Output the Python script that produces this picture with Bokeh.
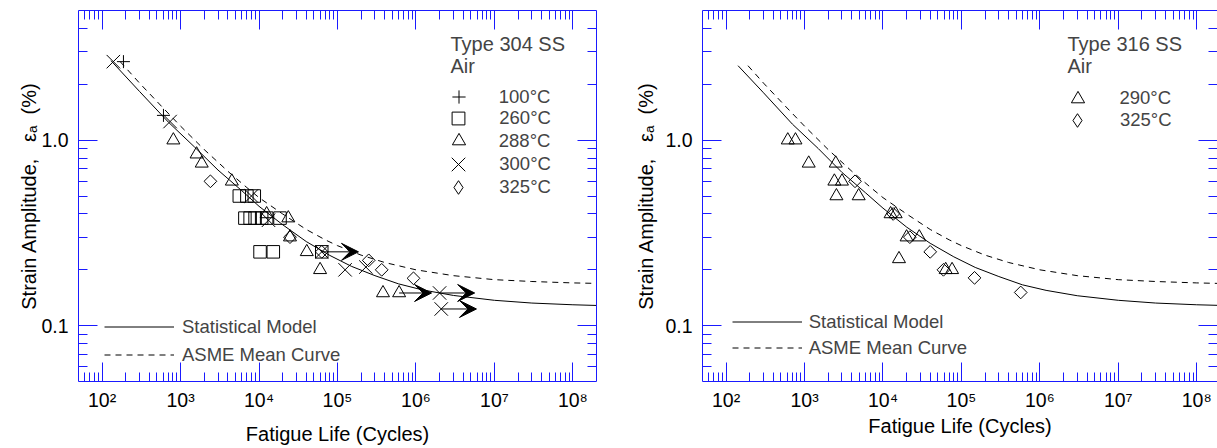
import math
from bokeh.plotting import figure
from bokeh.layouts import row
from bokeh.models import FixedTicker, LogAxis, Label, Arrow, VeeHead, Legend, LegendItem
from bokeh.embed import file_html
from bokeh.resources import INLINE

FONT = "Liberation Sans"
BLUE = "#1a1aff"
NB = "\u00a0"

# ---------------- Type 304 SS in air: life (cycles), strain amplitude (%) ----------------
n304_100 = [187, 605]
ea304_100 = [2.65, 1.36]
n304_260 = [5.6e3, 7.0e3, 8.7e3, 6.6e3, 7.7e3, 8.9e3, 1.08e4, 1.25e4, 1.85e4, 1.03e4, 1.52e4, 6.3e4]
ea304_260 = [0.5, 0.5, 0.5, 0.38, 0.38, 0.38, 0.38, 0.38, 0.38, 0.25, 0.25, 0.25]
n304_288 = [809, 1.6e3, 1.86e3, 4.5e3, 1.25e4, 2.36e4, 2.48e4, 4.06e4, 6.0e4, 3.8e5, 6.1e5]
ea304_288 = [1.0, 0.84, 0.75, 0.6, 0.4, 0.38, 0.3, 0.25, 0.2, 0.15, 0.15]
n304_300 = [139, 735, 8.0e3, 1.32e4, 6.3e4, 1.25e5, 2.3e5, 2.0e6, 2.1e6]
ea304_300 = [2.65, 1.26, 0.5, 0.37, 0.25, 0.2, 0.207, 0.15, 0.123]
n304_325 = [2.4e3, 2.48e4, 6.3e4, 2.5e5, 3.66e5, 9.3e5]
ea304_325 = [0.6, 0.3, 0.25, 0.225, 0.2, 0.18]

# run-outs: life reached, life the arrow points to, strain amplitude
runout304_from = [6.3e4, 6.1e5, 2.0e6, 2.1e6]
runout304_to = [1.85e5, 1.58e6, 5.6e6, 5.9e6]
runout304_ea = [0.25, 0.15, 0.15, 0.123]

model304_n = [130, 300, 700, 1500, 3000, 6000, 1e4, 2e4, 4e4, 8e4, 1.5e5, 3e5, 6e5, 1.2e6, 3e6, 1e7, 3e7, 1e8, 2e8]
model304_ea = [2.68, 1.83, 1.25, 0.92, 0.69, 0.535, 0.44, 0.35, 0.284, 0.239, 0.209, 0.186, 0.168,
               0.156, 0.1455, 0.137, 0.1324, 0.1296, 0.1285]
asme304_n = [170, 300, 600, 1000, 2000, 4000, 7000, 1e4, 2e4, 4e4, 7e4, 1e5, 2e5, 4e5, 1e6, 3e6, 1e7, 3e7, 1e8, 2e8]
asme304_ea = [2.65, 2.03, 1.49, 1.19, 0.89, 0.68, 0.555, 0.49, 0.40, 0.33, 0.29, 0.27, 0.24, 0.219,
              0.200, 0.186, 0.177, 0.173, 0.170, 0.169]

# ---------------- Type 316 SS in air ----------------
n316_290 = [611, 766, 1130, 2500, 2400, 3000, 2550, 4900, 1.25e4, 1.45e4, 2.0e4, 2.9e4, 1.6e4, 6.3e4, 7.6e4]
ea316_290 = [1.0, 1.0, 0.75, 0.75, 0.6, 0.6, 0.5, 0.5, 0.4, 0.4, 0.3, 0.3, 0.229, 0.2, 0.2]
n316_325 = [4.4e3, 1.35e4, 2.2e4, 4.0e4, 5.9e4, 1.47e5, 5.7e5]
ea316_325 = [0.6, 0.4, 0.3, 0.25, 0.2, 0.181, 0.151]

model316_n = [142, 300, 700, 1500, 3000, 6000, 1e4, 2e4, 4e4, 8e4, 1.5e5, 3e5, 6e5, 1.2e6, 3e6, 1e7, 3e7, 1e8, 1.84e8]
model316_ea = [2.52, 1.80, 1.22, 0.90, 0.67, 0.52, 0.43, 0.34, 0.278, 0.235, 0.206, 0.184, 0.166,
               0.155, 0.145, 0.137, 0.1324, 0.1296, 0.1287]
asme316_n = [190, 300, 600, 1000, 2000, 4000, 7000, 1e4, 2e4, 4e4, 7e4, 1e5, 2e5, 4e5, 1e6, 3e6, 1e7, 3e7, 1e8, 1.84e8]
asme316_ea = [2.52, 2.03, 1.49, 1.19, 0.89, 0.68, 0.555, 0.49, 0.40, 0.33, 0.29, 0.27, 0.24, 0.219,
              0.200, 0.186, 0.177, 0.173, 0.170, 0.169]

# axes
x_lo, y_lo, y_hi = 50, 0.05, 5.0
x_decades = [2, 3, 4, 5, 6, 7, 8]
x_decade_text = ["10\u00b2", "10\u00b3", "10\u2074", "10\u2075", "10\u2076", "10\u2077", "10\u2078"]
y_major = [0.1, 1.0]
y_major_text = ["0.1", "1.0"]
x_title = "Fatigue Life (Cycles)"
y_title = "Strain Amplitude," + NB * 3 + "\u03b5\u2090" + NB * 2 + "(%)"

FRAME_TOP, FRAME_BOTTOM = 10, 381


def log_minors(lo, hi):
    out = []
    for k in range(-3, 10):
        for m in range(2, 10):
            v = m * 10.0 ** k
            if lo < v < hi:
                out.append(v)
    return out


def style_axis(ax, ticks, minors, overrides, label_px, standoff):
    ax.ticker = FixedTicker(ticks=ticks, minor_ticks=minors)
    ax.major_label_overrides = overrides
    ax.axis_line_color = BLUE
    ax.major_tick_line_color = BLUE
    ax.minor_tick_line_color = BLUE
    ax.major_tick_in = 19
    ax.major_tick_out = 0
    ax.minor_tick_in = 9
    ax.minor_tick_out = 0
    ax.major_label_text_font = FONT
    ax.major_label_text_font_size = label_px
    ax.major_label_text_color = "black"
    ax.major_label_standoff = standoff
    ax.axis_label_text_font = FONT
    ax.axis_label_text_font_size = "20px"
    ax.axis_label_text_font_style = "normal"
    ax.axis_label_text_color = "black"


def marker_key(p, renderer, label, glyph_box, cx, cy, label_x, frame_left):
    # one-entry legend whose glyph box is sized so the key marker has the wanted size
    g = glyph_box
    leg = Legend(items=[LegendItem(label=label, renderers=[renderer])],
                 location=(cx - g / 2 - frame_left, FRAME_BOTTOM - (cy + g / 2)),
                 glyph_width=g, glyph_height=g, label_height=g,
                 label_standoff=int(round(label_x - (cx + g / 2))), padding=0, margin=0,
                 border_line_color=None, background_fill_alpha=0, inactive_fill_alpha=0,
                 label_text_font=FONT, label_text_font_size="18.5px")
    p.add_layout(leg)


def make_panel(x_hi, width, left_border, right_border, xtitle_standoff, ytitle_standoff):
    p = figure(width=width, height=448, x_axis_type="log", y_axis_type="log",
               x_range=(x_lo, x_hi), y_range=(y_lo, y_hi),
               output_backend="svg", toolbar_location=None,
               min_border_left=left_border, min_border_right=right_border,
               min_border_top=FRAME_TOP, min_border_bottom=448 - FRAME_BOTTOM)
    p.outline_line_color = None
    p.grid.visible = False
    p.background_fill_color = "white"
    p.border_fill_color = "white"

    xt = [10.0 ** k for k in x_decades]
    xminor = log_minors(x_lo, x_hi)
    ymin = log_minors(y_lo, y_hi)

    style_axis(p.xaxis[0], xt, xminor, dict(zip(xt, x_decade_text)), "19.5px", 7)
    p.xaxis[0].axis_label = x_title
    p.xaxis[0].axis_label_standoff = xtitle_standoff
    style_axis(p.yaxis[0], y_major, ymin, dict(zip(y_major, y_major_text)), "19.5px", 10)
    p.yaxis[0].axis_label = y_title
    p.yaxis[0].axis_label_standoff = ytitle_standoff

    top = LogAxis()
    style_axis(top, xt, xminor, {v: "" for v in xt}, "1px", 0)
    p.add_layout(top, "above")
    right = LogAxis()
    style_axis(right, y_major, ymin, {v: "" for v in y_major}, "1px", 0)
    p.add_layout(right, "right")
    return p


def add_heading(p, lines, dx):
    for i, line in enumerate(lines):
        p.add_layout(Label(x=x_lo, y=y_lo, x_offset=dx, y_offset=337.5 - 21.5 * i, text=line,
                           text_align="left", text_baseline="middle",
                           text_font=FONT, text_font_size="20px"))


def add_curves(p, n_model, ea_model, n_asme, ea_asme, spec):
    r1 = p.line(n_model, ea_model, line_color="black", line_width=1)
    r2 = p.line(n_asme, ea_asme, line_color="black", line_width=1, line_dash="6 5")
    lx, ly, standoff, spacing = spec
    leg = Legend(items=[LegendItem(label="Statistical Model", renderers=[r1]),
                        LegendItem(label="ASME Mean Curve", renderers=[r2])],
                 location=(lx, ly), glyph_width=70, glyph_height=21, label_height=21,
                 label_standoff=standoff, spacing=spacing, padding=0, margin=0,
                 border_line_color=None, background_fill_alpha=0,
                 label_text_font=FONT, label_text_font_size="18.5px")
    p.add_layout(leg)


def open_markers(p, n, ea, marker, size, angle=0.0, visible=True):
    return p.scatter(n, ea, marker=marker, size=size, angle=angle, fill_color=None,
                     line_color="black", line_width=1, visible=visible)


ROT = math.pi / 4
LEFT_W, LEFT_FRAME_X = 630, 78
RIGHT_FRAME_X = 702

# ---------------- left panel: Type 304 ----------------
left = make_panel(2.0e8, LEFT_W, LEFT_FRAME_X, LEFT_W - 596, 9, -2)
add_curves(left, model304_n, model304_ea, asme304_n, asme304_ea, (26, 15.5, 8, 6))
for a, b, e in zip(runout304_from, runout304_to, runout304_ea):
    left.add_layout(Arrow(x_start=a, y_start=e, x_end=b, y_end=e, line_color="black", line_width=1,
                          end=VeeHead(size=17, fill_color="black", line_color="black")))
r_plus = open_markers(left, n304_100, ea304_100, "cross", 13)
r_sq = open_markers(left, n304_260, ea304_260, "square", 12.5)
r_tri = open_markers(left, n304_288, ea304_288, "triangle", 13)
r_x = open_markers(left, n304_300, ea304_300, "x", 19)
open_markers(left, n304_325, ea304_325, "square", 9, ROT)
# key glyph for the diamonds (the plotted ones are rotated squares)
r_dia_key = open_markers(left, n304_325, ea304_325, "diamond", 13, visible=False)
add_heading(left, ["Type 304 SS", "Air"], 372)
for r, lab, g, cy in [(r_plus, "100\u00b0C", 33, 96.7), (r_sq, "260\u00b0C", 32, 118),
                      (r_tri, "288\u00b0C", 33, 140.5), (r_x, "300\u00b0C", 48, 164),
                      (r_dia_key, "325\u00b0C", 34, 186.7)]:
    marker_key(left, r, lab, g, 458.3, cy, 499, LEFT_FRAME_X)

# ---------------- right panel: Type 316 ----------------
right = make_panel(1.84e8, 1217 - LEFT_W, RIGHT_FRAME_X - LEFT_W, 0, 1, 5)
add_curves(right, model316_n, model316_ea, asme316_n, asme316_ea, (29.7, 22.2, 7, 4))
r_tri2 = open_markers(right, n316_290, ea316_290, "triangle", 13)
open_markers(right, n316_325, ea316_325, "square", 9, ROT)
r_dia_key2 = open_markers(right, n316_325, ea316_325, "diamond", 13, visible=False)
add_heading(right, ["Type 316 SS", "Air"], 365)
for r, lab, g, cy in [(r_tri2, "290\u00b0C", 33, 98), (r_dia_key2, "325\u00b0C", 34, 120)]:
    marker_key(right, r, lab, g, 1077, cy, 1120, RIGHT_FRAME_X)
right.yaxis[1].axis_line_color = None

layout = row(left, right, spacing=0)
open("out.html", "w").write(file_html(layout, INLINE))
